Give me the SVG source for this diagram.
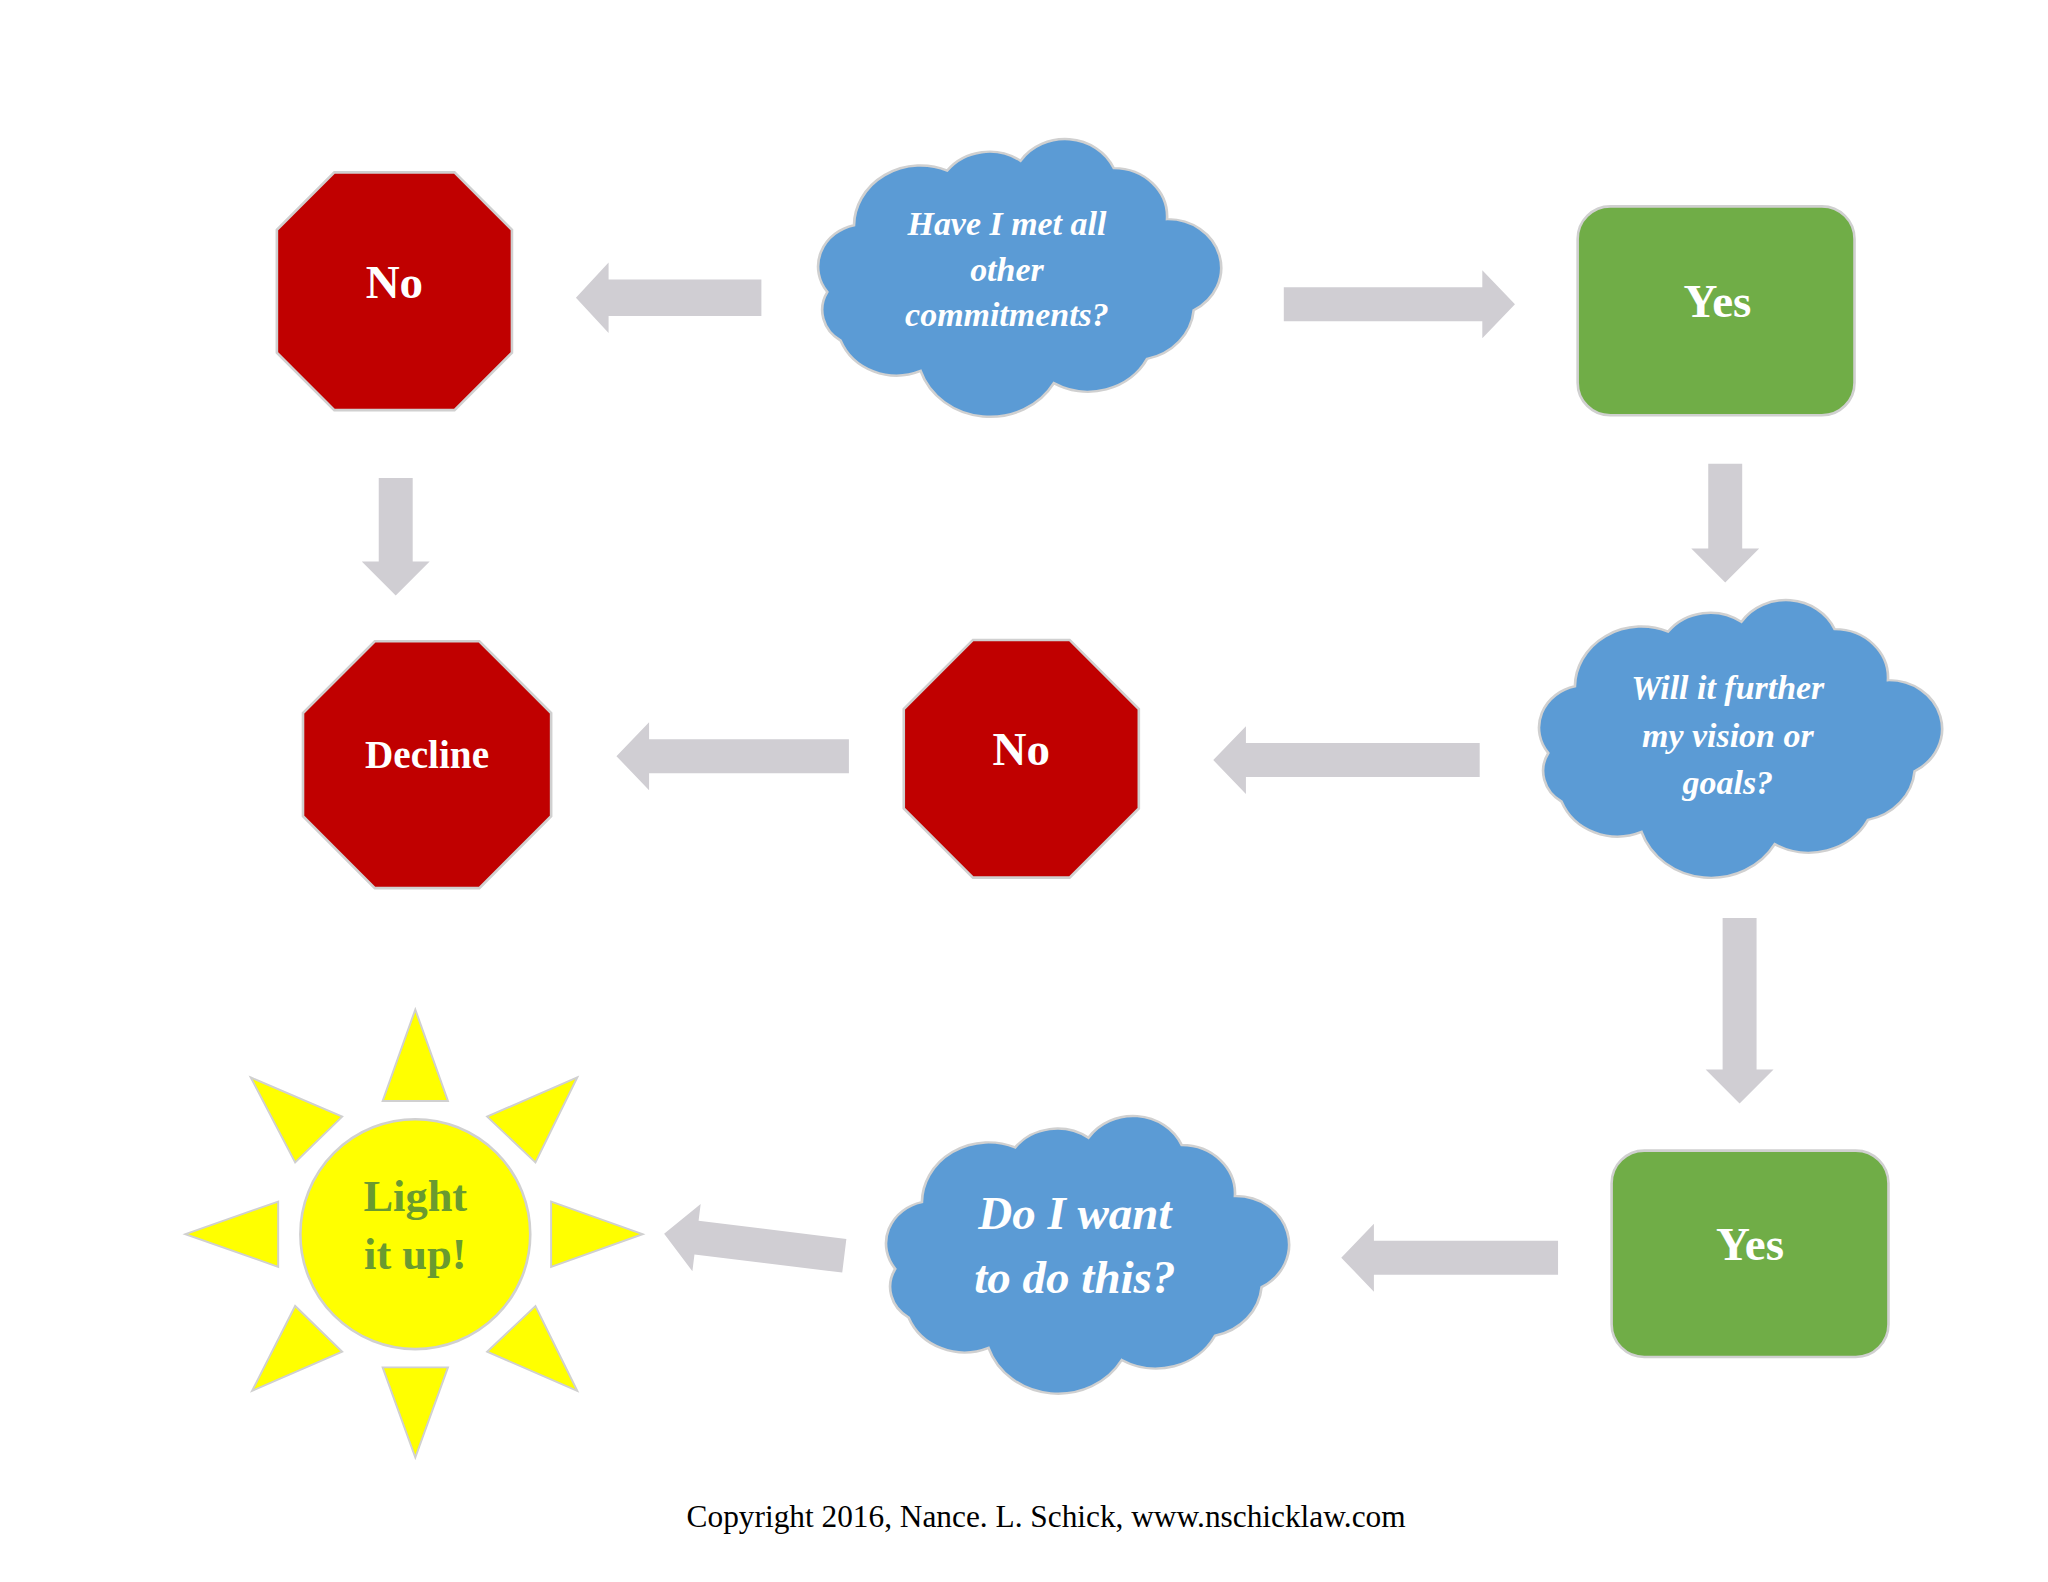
<svg xmlns="http://www.w3.org/2000/svg" xmlns:xlink="http://www.w3.org/1999/xlink" width="2048" height="1582" viewBox="0 0 2048 1582">
<style>
.oct{fill:#c00000;stroke:#d0d0d0;stroke-width:2}
.box{fill:#70ad47;stroke:#d0d0d0;stroke-width:2}
.cl{fill:#5b9bd5;stroke:#d0d0d0;stroke-width:2}
.arr{fill:#d0ced3}
.t{font-family:"Liberation Serif",serif;font-weight:bold;fill:#fff;text-anchor:middle}
.it{font-style:italic}
.ray{fill:#ffff00;stroke:#d0d0d0;stroke-width:1.5}
</style>
<defs>
<path id="cloud" d="M25,120 A35,35 0 0 1 45,65 A50,50 0 0 1 115,20 A40,40 0 0 1 170,12 A40,40 0 0 1 240,18 A40,40 0 0 1 280,60 A40,40 0 0 1 300,135 A45,45 0 0 1 265,175 A50,50 0 0 1 195,195 A55,55 0 0 1 95,185 A45,45 0 0 1 35,160 A30,30 0 0 1 25,120 Z"/>
</defs>
<rect width="2048" height="1582" fill="#fff"/>
<g transform="scale(1.306)">
<g id="connectors">
<polygon class="arr" points="583,214 466,214 466,201 441,228 466,255 466,242 583,242"/>
<polygon class="arr" points="983,220 1135,220 1135,207 1160,233 1135,259 1135,246 983,246"/>
<polygon class="arr" points="290,366 316,366 316,430 329,430 303,456 277,430 290,430"/>
<polygon class="arr" points="1308,355 1334,355 1334,420 1347,420 1321,446 1295,420 1308,420"/>
<polygon class="arr" points="1133,569 954,569 954,556 929,582 954,608 954,595 1133,595"/>
<polygon class="arr" points="650,566 497,566 497,553 472,579 497,605 497,592 650,592"/>
<polygon class="arr" points="1319,703 1345,703 1345,819 1358,819 1332,845 1306,819 1319,819"/>
<polygon class="arr" points="1193,950 1052,950 1052,937 1027,963 1052,989 1052,976 1193,976"/>
<polygon class="arr" transform="rotate(7 577 953)" points="647,940 533,940 533,927 508,953 533,979 533,966 647,966"/>
</g>
<g id="no1">
<polygon class="oct" points="256,132 348,132 392,176 392,270 348,314 256,314 212,270 212,176"/>
<text class="t" x="302" y="228" font-size="36">No</text>
</g>
<g id="cloud1">
<use href="#cloud" class="cl" transform="translate(608,112) scale(1.02,0.93)"/>
<text class="t it" font-size="26"><tspan x="771" y="180">Have I met all</tspan><tspan x="771" y="215">other</tspan><tspan x="771" y="250">commitments?</tspan></text>
</g>
<g id="yes1">
<rect class="box" x="1208" y="158" width="212" height="160" rx="25"/>
<text class="t" x="1315" y="243" font-size="36">Yes</text>
</g>
<g id="decline">
<polygon class="oct" points="287,491 367,491 422,546 422,625 367,680 287,680 232,625 232,546"/>
<text class="t" x="327" y="588" font-size="30">Decline</text>
</g>
<g id="no2">
<polygon class="oct" points="745,490 819,490 872,543 872,619 819,672 745,672 692,619 692,543"/>
<text class="t" x="782" y="586" font-size="36">No</text>
</g>
<g id="cloud2">
<use href="#cloud" class="cl" transform="translate(1160,465) scale(1.02,0.93)"/>
<text class="t it" font-size="26"><tspan x="1323" y="535">Will it further</tspan><tspan x="1323" y="572">my vision or</tspan><tspan x="1323" y="608">goals?</tspan></text>
</g>
<g id="yes2">
<rect class="box" x="1234" y="881" width="212" height="158" rx="25"/>
<text class="t" x="1340" y="965" font-size="36">Yes</text>
</g>
<g id="cloud3">
<use href="#cloud" class="cl" transform="translate(660,860) scale(1.02,0.93)"/>
<text class="t it" font-size="36"><tspan x="823" y="941">Do I want</tspan><tspan x="823" y="990">to do this?</tspan></text>
</g>
<g id="sun">
<polygon class="ray" points="318,773 343,843 293,843"/>
<polygon class="ray" points="318,1116 343,1047 293,1047"/>
<polygon class="ray" points="142,945 213,920 213,970"/>
<polygon class="ray" points="492,945 422,920 422,970"/>
<polygon class="ray" points="192,825 262,855 226,890"/>
<polygon class="ray" points="442,825 373,855 410,890"/>
<polygon class="ray" points="193,1065 226,1000 262,1035"/>
<polygon class="ray" points="442,1065 373,1035 410,1000"/>
<circle cx="318" cy="945" r="88" fill="#ffff00" stroke="#d0d0d0" stroke-width="2"/>
<text class="t" font-size="34" style="fill:#6a9a30"><tspan x="318" y="927">Light</tspan><tspan x="318" y="972">it up!</tspan></text>
</g>
<text x="801" y="1169" font-family="Liberation Serif,serif" font-size="24" text-anchor="middle" fill="#000">Copyright 2016, Nance. L. Schick, www.nschicklaw.com</text>
</g>
</svg>
